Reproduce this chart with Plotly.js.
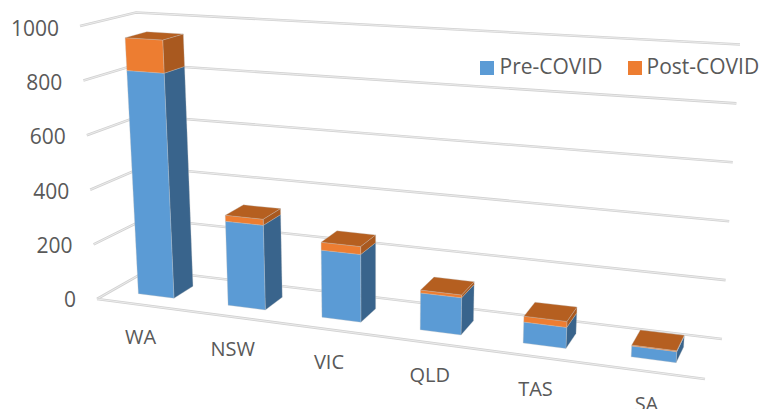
<!DOCTYPE html>
<html><head><meta charset="utf-8">
<script src="https://cdn.plot.ly/plotly-3.0.1.min.js"></script>
<style>html,body{margin:0;padding:0;background:#fff}</style></head>
<body><div id="chart" style="width:760px;height:409px"></div>
<script>
const categories = ['WA','NSW','VIC','QLD','TAS','SA'];
const preCovid  = [826,304,238,128,71,36];
const postCovid = [122,22,28,10,20,3];
const valueTicks = [0,200,400,600,800,1000];
const seriesNames = ['Pre-COVID','Post-COVID'];

// Perspective box of the 3-D chart: corners on the page [floor, ceiling]
const box = {
  fl:[[97,299],[80,26]],  fr:[[705,379],[725,67]],
  bl:[[148,270],[136,12.5]], br:[[722,339],[740,44.5]]
};
const PERSP = 1.15, BAR_HALF = 0.0335, W0 = 0.3, W1 = 0.7;
const mix=(a,b,t)=>a+(b-a)*t;
function proj(t,val,w){
  const s=t/(t+PERSP*(1-t)), v=val/1000, out=[];
  for(const k of [0,1]){
    const f=mix(mix(box.fl[0][k],box.fl[1][k],v),mix(box.fr[0][k],box.fr[1][k],v),s);
    const b=mix(mix(box.bl[0][k],box.bl[1][k],v),mix(box.br[0][k],box.br[1][k],v),s);
    out.push(mix(f,b,w));
  }
  return out;
}
const traces=[];
function path(pts,color,width,dash){
  traces.push({type:'scatter',mode:'lines',x:pts.map(p=>p[0]),y:pts.map(p=>p[1]),
    line:{color,width,dash:dash||'solid'},hoverinfo:'skip',showlegend:false});
}
function poly(pts,color){
  const c=pts.concat([pts[0]]);
  traces.push({type:'scatter',mode:'lines',x:c.map(p=>p[0]),y:c.map(p=>p[1]),fill:'toself',
    fillcolor:color,line:{color:'rgba(190,190,190,0.45)',width:0.7},hoverinfo:'skip',showlegend:false});
}
// gridlines
for(const tk of valueTicks){
  const pts=[proj(0,tk,0),proj(0,tk,1),proj(1,tk,1)];
  path(pts,'#d2d2d2',2.6); path(pts,'#f1f1f1',0.8);
}
const fp=[proj(0,0,0),proj(1,0,0)];
path(fp,'#d2d2d2',2.6); path(fp,'#f1f1f1',0.8);

// bars
const COL={pre:{front:'#5B9BD5',side:'#39648C'},post:{front:'#ED7D31',side:'#A9591F',top:'#B55F20'}};
categories.forEach((c,i)=>{
  const t=(i+0.5)/categories.length, l=t-BAR_HALF, r=t+BAR_HALF;
  const p=preCovid[i], q=preCovid[i]+postCovid[i];
  poly([proj(r,0,W0),proj(r,0,W1),proj(r,p,W1),proj(r,p,W0)],COL.pre.side);
  poly([proj(l,0,W0),proj(r,0,W0),proj(r,p,W0),proj(l,p,W0)],COL.pre.front);
  poly([proj(r,p,W0),proj(r,p,W1),proj(r,q,W1),proj(r,q,W0)],COL.post.side);
  poly([proj(l,p,W0),proj(r,p,W0),proj(r,q,W0),proj(l,q,W0)],COL.post.front);
  poly([proj(l,q,W0),proj(r,q,W0),proj(r,q,W1),proj(l,q,W1)],COL.post.top);
});
const FONT='"Open Sans", sans-serif', INK='#595959';
// value labels
const vp=valueTicks.map(v=>proj(0,v,0));
traces.push({type:'scatter',mode:'text',x:vp.map(p=>p[0]-21),y:vp.map((p,i)=>p[1]+3+i*0.3),
  text:valueTicks.map(String),textposition:'middle left',
  textfont:{family:FONT,size:21,color:INK},hoverinfo:'skip',showlegend:false});
// category labels
const cp=categories.map((c,i)=>proj((i+0.5)/categories.length,0,0));
traces.push({type:'scatter',mode:'text',x:cp.map(p=>p[0]-1),y:cp.map(p=>p[1]+34.5),
  text:categories,textposition:'middle center',cliponaxis:false,
  textfont:{family:FONT,size:20,color:INK},hoverinfo:'skip',showlegend:false});
// legend
traces.push({type:'scatter',mode:'markers',x:[487,635],y:[68,68],
  marker:{symbol:'square',size:14,color:[COL.pre.front,COL.post.front]},hoverinfo:'skip',showlegend:false});
traces.push({type:'scatter',mode:'text',x:[499.5,646.5],y:[69,69],text:seriesNames,
  textposition:'middle right',textfont:{family:FONT,size:21,color:INK},hoverinfo:'skip',showlegend:false});

Plotly.newPlot('chart',traces,{
  width:760,height:409,margin:{l:0,r:0,t:0,b:0},
  paper_bgcolor:'#fff',plot_bgcolor:'#fff',showlegend:false,
  xaxis:{range:[0,760],visible:false,fixedrange:true},
  yaxis:{range:[409,0],visible:false,fixedrange:true}
},{displayModeBar:false,staticPlot:true});
</script></body></html>
